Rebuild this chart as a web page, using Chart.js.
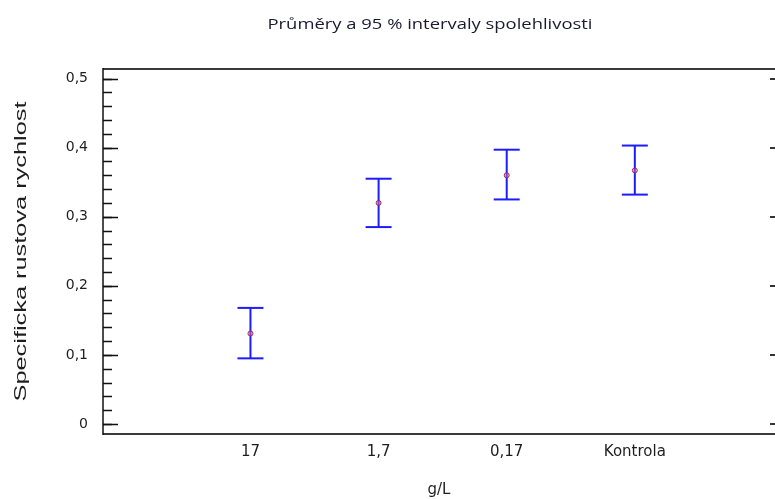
<!DOCTYPE html>
<html>
<head>
<meta charset="utf-8">
<title>Průměry a 95 % intervaly spolehlivosti</title>
<script src="https://cdn.jsdelivr.net/npm/chart.js@4.4.1/dist/chart.umd.min.js"></script>
<style>
    html, body { margin: 0; padding: 0; background: #ffffff; }
    #wrap { width: 775px; height: 499px; }
</style>
</head>
<body>
<div id="wrap"><canvas id="intervalChart" width="775" height="499"></canvas></div>
<script>
// Data hasil pengukuran
const categories = ['17', '1,7', '0,17', 'Kontrola'];
const means = [0.131, 0.320, 0.360, 0.367];
const lower = [0.095, 0.285, 0.325, 0.332];
const upper = [0.168, 0.355, 0.397, 0.403];

// Tick labels sumbu Y
const yTicks = [0, 0.1, 0.2, 0.3, 0.4, 0.5];
const yTickLabels = ['0', '0,1', '0,2', '0,3', '0,4', '0,5'];
const yMinorStep = 0.02;

const chartTitle = 'Průměry a 95 % intervaly spolehlivosti';
const yTitle = 'Specificka rustova rychlost';
const xTitle = 'g/L';

const barColor = '#1c1cff';
const meanColor = '#a3285e';
const textColor = '#1e1e1e';

/**
 * Plugin: frame, inner ticks dan teks tambahan
 */
const framePlugin = {
    id: 'frame',
    afterDraw(chart) {
        const ctx = chart.ctx;
        const area = chart.chartArea;
        const y = chart.scales.y;

        ctx.save();

        // Frame lines
        ctx.strokeStyle = '#3a3a3a';
        ctx.lineWidth = 2;
        ctx.beginPath();
        ctx.moveTo(area.left, area.top);
        ctx.lineTo(area.right, area.top);
        ctx.moveTo(area.left, area.bottom);
        ctx.lineTo(area.right, area.bottom);
        ctx.stroke();

        ctx.strokeStyle = '#111111';
        ctx.lineWidth = 1.5;
        ctx.beginPath();
        ctx.moveTo(area.left, area.top - 1);
        ctx.lineTo(area.left, area.bottom + 1);
        ctx.stroke();

        // Minor ticks kiri
        ctx.lineWidth = 1.5;
        ctx.beginPath();
        for (let v = 0; v <= 0.5 + 1e-9; v += yMinorStep) {
            const py = Math.round(y.getPixelForValue(v)) + 0.5;
            ctx.moveTo(area.left, py);
            ctx.lineTo(area.left + 9, py);
        }
        ctx.stroke();

        // Major ticks kiri dan kanan
        ctx.beginPath();
        yTicks.forEach(v => {
            const py = Math.round(y.getPixelForValue(v)) + 0.5;
            ctx.moveTo(area.left, py);
            ctx.lineTo(area.left + 15, py);
        });
        ctx.stroke();

        ctx.strokeStyle = '#333333';
        ctx.lineWidth = 2;
        ctx.beginPath();
        yTicks.forEach(v => {
            const py = Math.round(y.getPixelForValue(v));
            ctx.moveTo(area.right - 5, py);
            ctx.lineTo(area.right, py);
        });
        ctx.stroke();

        // Judul grafik (sedikit dilebarkan seperti aslinya)
        ctx.save();
        ctx.fillStyle = '#1a1a30';
        ctx.font = '15px "Open Sans"';
        ctx.textAlign = 'center';
        ctx.textBaseline = 'middle';
        ctx.translate(430, 25);
        const tw = ctx.measureText(chartTitle).width;
        ctx.scale(325 / tw, 1);
        ctx.fillText(chartTitle, 0, 0);
        ctx.restore();

        // Judul sumbu Y (diputar)
        ctx.fillStyle = textColor;
        ctx.font = '16px "Liberation Sans"';
        ctx.textAlign = 'center';
        ctx.textBaseline = 'middle';
        ctx.translate(22, (area.top + area.bottom) / 2);
        ctx.rotate(-Math.PI / 2);
        const w = ctx.measureText(yTitle).width;
        ctx.scale(300 / w, 1);
        ctx.fillText(yTitle, 0, 0);

        ctx.restore();
    }
};

// Dataset interval (garis vertikal + cap)
const intervalSets = categories.map((cat, i) => ({
    label: cat,
    data: [
        { x: i + 1, y: lower[i] },
        { x: i + 1, y: upper[i] }
    ],
    showLine: true,
    borderColor: barColor,
    borderWidth: 2,
    pointStyle: 'line',
    pointRadius: 13,
    pointBorderWidth: 2,
    pointBorderColor: barColor,
    order: 1
}));

const meanSet = {
    label: 'Průměr',
    data: means.map((m, i) => ({ x: i + 1, y: m })),
    pointStyle: 'circle',
    pointRadius: 2.5,
    pointBorderWidth: 1,
    pointBorderColor: meanColor,
    pointBackgroundColor: 'rgba(200,120,160,0.5)',
    showLine: false,
    order: 0
};

const chart = new Chart(document.getElementById('intervalChart'), {
    type: 'scatter',
    data: {
        datasets: [...intervalSets, meanSet]
    },
    options: {
        responsive: false,
        animation: false,
        devicePixelRatio: 1,
        layout: {
            autoPadding: false,
            padding: { top: 69, right: 0, bottom: 0, left: 0 }
        },
        plugins: {
            legend: { display: false },
            title: { display: false },
            tooltip: { enabled: false }
        },
        scales: {
            x: {
                type: 'linear',
                min: -0.151,
                max: 5.094,
                grid: { display: false, drawTicks: false },
                border: { display: false },
                afterBuildTicks(scale) {
                    scale.ticks = categories.map((c, i) => ({ value: i + 1 }));
                },
                afterFit(scale) {
                    scale.height = 65;
                },
                ticks: {
                    color: textColor,
                    font: { family: 'DejaVu Sans', size: 15 },
                    padding: 9,
                    maxRotation: 0,
                    callback: (value, index) => categories[index]
                },
                title: {
                    display: true,
                    text: xTitle,
                    color: textColor,
                    font: { family: 'DejaVu Sans', size: 15 },
                    padding: { top: 8, bottom: 0 }
                }
            },
            y: {
                min: -0.0145,
                max: 0.5138,
                grid: { display: false, drawTicks: false },
                border: { display: false },
                afterBuildTicks(scale) {
                    scale.ticks = yTicks.map(v => ({ value: v }));
                },
                afterFit(scale) {
                    scale.width = 103;
                },
                ticks: {
                    color: textColor,
                    font: { family: 'DejaVu Sans', size: 14 },
                    padding: 15,
                    callback: (value, index) => yTickLabels[index]
                }
            }
        }
    },
    plugins: [framePlugin]
});
</script>
</body>
</html>
